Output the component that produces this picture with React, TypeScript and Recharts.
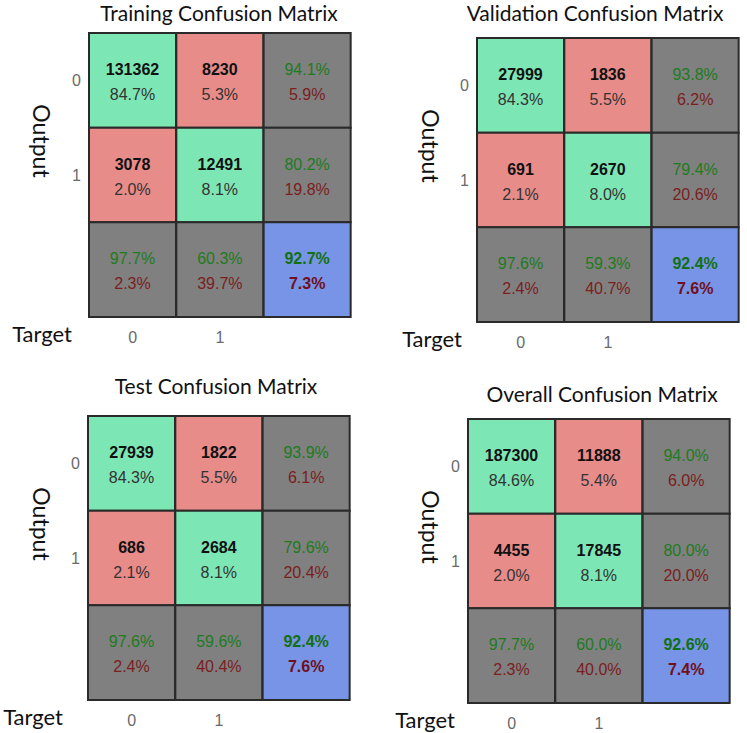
import { BarChart, Bar, XAxis, YAxis, Cell, LabelList, Label } from "recharts";

// target classes along the bottom, output classes along the side
const targetClasses = ["0", "1", ""];
const outputClasses = ["0", "1"];

// Training
const trainingCounts = [[131362, 8230], [3078, 12491]];
const trainingPct = [[84.7, 5.3], [2.0, 8.1]];
const trainingRowRates = [[94.1, 5.9], [80.2, 19.8]];
const trainingColRates = [[97.7, 2.3], [60.3, 39.7]];
const trainingTotal = [92.7, 7.3];

// Validation
const validationCounts = [[27999, 1836], [691, 2670]];
const validationPct = [[84.3, 5.5], [2.1, 8.0]];
const validationRowRates = [[93.8, 6.2], [79.4, 20.6]];
const validationColRates = [[97.6, 2.4], [59.3, 40.7]];
const validationTotal = [92.4, 7.6];

// Test
const testCounts = [[27939, 1822], [686, 2684]];
const testPct = [[84.3, 5.5], [2.1, 8.1]];
const testRowRates = [[93.9, 6.1], [79.6, 20.4]];
const testColRates = [[97.6, 2.4], [59.6, 40.4]];
const testTotal = [92.4, 7.6];

// Overall
const overallCounts = [[187300, 11888], [4455, 17845]];
const overallPct = [[84.6, 5.4], [2.0, 8.1]];
const overallRowRates = [[94.0, 6.0], [80.0, 20.0]];
const overallColRates = [[97.7, 2.3], [60.0, 40.0]];
const overallTotal = [92.6, 7.4];

const GREEN = "#7de6b5";
const RED = "#e88c8a";
const GRAY = "#808080";
const BLUE = "#7894e6";
const BORDER = "#2a2a2a";

const CELL_FONT = "'Liberation Sans', Arial, sans-serif";
const LABEL_FONT = "Lato, 'Open Sans', sans-serif";

const GRID_W = 262;
const GRID_H = 284;
const LEFT = 88;
const TOP = 30;
const AXIS_H = 34;
const CHART_W = LEFT + GRID_W + 8;
const CHART_H = TOP + GRID_H + AXIS_H + 2;

interface Matrix {
  title: string;
  counts: number[][];
  pct: number[][];
  rowRates: number[][];
  colRates: number[][];
  total: number[];
  gridX: number;
  gridY: number;
  titleX: number;
  titleY: number;
  targetOffset: number;
  outputDx: number;
}

const matrices: Matrix[] = [
  { title: "Training Confusion Matrix", counts: trainingCounts, pct: trainingPct, rowRates: trainingRowRates, colRates: trainingColRates, total: trainingTotal, gridX: 89, gridY: 33, titleX: 219, titleY: 12, targetOffset: 17, outputDx: 47 },
  { title: "Validation Confusion Matrix", counts: validationCounts, pct: validationPct, rowRates: validationRowRates, colRates: validationColRates, total: validationTotal, gridX: 477, gridY: 38, titleX: 595, titleY: 12, targetOffset: 15, outputDx: 46 },
  { title: "Test Confusion Matrix", counts: testCounts, pct: testPct, rowRates: testRowRates, colRates: testColRates, total: testTotal, gridX: 88, gridY: 416, titleX: 216, titleY: 385, targetOffset: 25, outputDx: 46 },
  { title: "Overall Confusion Matrix", counts: overallCounts, pct: overallPct, rowRates: overallRowRates, colRates: overallColRates, total: overallTotal, gridX: 468, gridY: 419, titleX: 602, titleY: 393, targetOffset: 13, outputDx: 37 },
];

const fmt = (v: number) => `${v.toFixed(1)}%`;

function cellColor(row: number, col: number) {
  if (row === 2 && col === 2) return BLUE;
  if (row === 2 || col === 2) return GRAY;
  return row === col ? GREEN : RED;
}

function makeCellLabel(m: Matrix, row: number) {
  return (props: any) => {
    const { x, y, width, height, index } = props;
    const cx = x + width / 2;
    const cy = y + height / 2;
    const col = index as number;
    let top: string;
    let bottom: string;
    let topFill: string;
    let bottomFill: string;
    let bold = false;
    let topBold = false;
    if (row < 2 && col < 2) {
      top = String(m.counts[row][col]);
      bottom = fmt(m.pct[row][col]);
      topFill = "#111";
      bottomFill = "#333";
      topBold = true;
    } else if (row === 2 && col === 2) {
      top = fmt(m.total[0]);
      bottom = fmt(m.total[1]);
      topFill = "#127012";
      bottomFill = "#6e1020";
      bold = true;
      topBold = true;
    } else {
      const pair = col === 2 ? m.rowRates[row] : m.colRates[col];
      top = fmt(pair[0]);
      bottom = fmt(pair[1]);
      topFill = "#1e7b1e";
      bottomFill = "#7a1e1e";
    }
    return (
      <g>
        <text x={cx} y={cy - 11} textAnchor="middle" dominantBaseline="central" fontFamily={CELL_FONT} fontSize={16} fontWeight={topBold ? 700 : 400} fill={topFill}>
          {top}
        </text>
        <text x={cx} y={cy + 14} textAnchor="middle" dominantBaseline="central" fontFamily={CELL_FONT} fontSize={16} fontWeight={bold ? 700 : 400} fill={bottomFill}>
          {bottom}
        </text>
      </g>
    );
  };
}

function makeOutputLabel(m: Matrix) {
  return (props: any) => {
    const vb = props.viewBox || { x: LEFT - 30, y: TOP, width: 30, height: GRID_H };
    const cx = vb.x + vb.width - m.outputDx;
    const cy = vb.y + 108;
    return (
      <text x={cx} y={cy} transform={`rotate(90 ${cx} ${cy})`} textAnchor="middle" dominantBaseline="central" fontFamily={LABEL_FONT} fontSize={23} fill="#111">
        Output
      </text>
    );
  };
}

function ConfusionPanel({ m }: { m: Matrix }) {
  const data = targetClasses.map((t) => ({ target: t, r0: 1, r1: 1, r2: 1 }));
  const rows = ["r0", "r1", "r2"];
  return (
    <>
      <div
        style={{
          position: "absolute",
          left: m.titleX - 200,
          top: m.titleY - 10,
          width: 400,
          textAlign: "center",
          fontFamily: LABEL_FONT,
          fontSize: 21,
          lineHeight: "21px",
          color: "#111",
          whiteSpace: "nowrap",
        }}
      >
        {m.title}
      </div>
      <div style={{ position: "absolute", left: m.gridX - LEFT, top: m.gridY - TOP }}>
        <BarChart width={CHART_W} height={CHART_H} data={data} margin={{ top: TOP, right: 8, left: LEFT - 30, bottom: 2 }} barCategoryGap={0}>
          <XAxis dataKey="target" tickLine={false} axisLine={false} height={AXIS_H} tickMargin={9} tick={{ fill: "#6a6a6a", fontSize: 16, fontFamily: CELL_FONT }}>
            <Label value="Target" position="left" offset={m.targetOffset} fontFamily={LABEL_FONT} fontSize={22} fill="#111" />
          </XAxis>
          <YAxis
            type="number"
            domain={[0, 3]}
            reversed
            ticks={[0.5, 1.5]}
            tickFormatter={(_v: number, i: number) => outputClasses[i]}
            tickLine={false}
            axisLine={false}
            width={30}
            tickMargin={2}
            tick={{ fill: "#6a6a6a", fontSize: 16, fontFamily: CELL_FONT }}
          >
            <Label content={makeOutputLabel(m)} />
          </YAxis>
          {rows.map((key, row) => (
            <Bar key={key} dataKey={key} stackId="m" isAnimationActive={false} stroke={BORDER} strokeWidth={2}>
              {data.map((_d, col) => (
                <Cell key={col} fill={cellColor(row, col)} />
              ))}
              <LabelList dataKey={key} content={makeCellLabel(m, row)} />
            </Bar>
          ))}
        </BarChart>
      </div>
    </>
  );
}

export default function App() {
  return (
    <div style={{ position: "absolute", left: 0, top: 0, width: 747, height: 733, background: "#fff", overflow: "hidden" }}>
      {matrices.map((m) => (
        <ConfusionPanel key={m.title} m={m} />
      ))}
    </div>
  );
}
